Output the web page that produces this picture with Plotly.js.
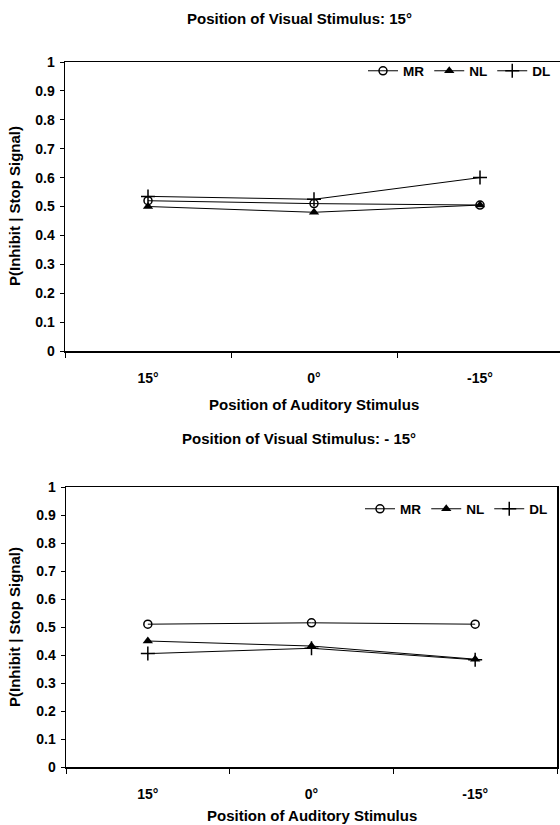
<!DOCTYPE html>
<html>
<head>
<meta charset="utf-8">
<script src="https://cdn.plot.ly/plotly-3.0.1.min.js"></script>
<style>html,body{margin:0;padding:0;background:#fff;}#chart{width:560px;height:825px;}</style>
</head>
<body>
<div id="chart"></div>
<script>
const categories = ['15°', '0°', '-15°'];
const seriesNames = ['MR', 'NL', 'DL'];
const topMR = [0.52, 0.51, 0.505];
const topNL = [0.50, 0.48, 0.505];
const topDL = [0.535, 0.525, 0.60];
const botMR = [0.51, 0.515, 0.51];
const botNL = [0.45, 0.432, 0.385];
const botDL = [0.405, 0.424, 0.383];
const yTickVals = [0, 0.1, 0.2, 0.3, 0.4, 0.5, 0.6, 0.7, 0.8, 0.9, 1];
const yTickText = ['0', '0.1', '0.2', '0.3', '0.4', '0.5', '0.6', '0.7', '0.8', '0.9', '1'];
const titleTop = 'Position of Visual Stimulus: 15°';
const titleBottom = 'Position of Visual Stimulus: - 15°';
const xTitle = 'Position of Auditory Stimulus';
const yTitle = 'P(Inhibit | Stop Signal)';

const F = 'Liberation Sans, Arial, sans-serif';
const markerStyles = {
  MR: {symbol: 'circle-open', size: 8, color: '#000', line: {width: 1.5, color: '#000'}},
  NL: {symbol: 'triangle-up', size: 9, color: '#000', line: {width: 0}},
  DL: {symbol: 'cross-thin-open', size: 10, color: '#000', line: {width: 1.5, color: '#000'}}
};

function mk(name, ys, xa, ya, leg) {
  return {
    type: 'scatter', mode: 'lines+markers', name: name,
    x: categories, y: ys, xaxis: xa, yaxis: ya, legend: leg,
    line: {color: '#000', width: 1},
    marker: markerStyles[name], cliponaxis: false
  };
}

const data = [
  mk('MR', topMR, 'x', 'y', 'legend'),
  mk('NL', topNL, 'x', 'y', 'legend'),
  mk('DL', topDL, 'x', 'y', 'legend'),
  mk('MR', botMR, 'x2', 'y2', 'legend2'),
  mk('NL', botNL, 'x2', 'y2', 'legend2'),
  mk('DL', botDL, 'x2', 'y2', 'legend2')
];

const tickFont = {family: F, size: 14, color: '#000', weight: 'bold'};
function xax(domain, range, mirror) {
  return {
    domain: domain, type: 'category', categoryarray: categories, range: range,
    showgrid: false, zeroline: false, showline: true, linecolor: '#000', linewidth: 1.5,
    mirror: mirror, ticks: 'outside', ticklen: 5, tickcolor: '#000', tickwidth: 1,
    tickson: 'boundaries', tickfont: tickFont, ticklabelstandoff: 14
  };
}
function yax(domain, anchor, mirror) {
  return {
    domain: domain, anchor: anchor, range: [0, 1],
    tickvals: yTickVals, ticktext: yTickText,
    showgrid: false, zeroline: false, showline: true, linecolor: '#000', linewidth: 1.5,
    mirror: mirror, ticks: 'outside', ticklen: 4, tickcolor: '#000', tickwidth: 1,
    tickfont: tickFont, ticklabelstandoff: 2
  };
}

const H = 825, W = 560;
const legFont = {family: F, size: 13.5, color: '#000', weight: 'bold'};
const titleFont = {family: F, size: 15, weight: 'bold', color: '#000'};
const layout = {
  width: W, height: H,
  margin: {l: 0, r: 0, t: 0, b: 0},
  paper_bgcolor: '#fff', plot_bgcolor: '#fff',
  showlegend: true,
  xaxis: Object.assign(xax([65 / W, 1], [-0.5, -0.5 + 495 / 166], true), {anchor: 'y'}),
  yaxis: yax([1 - 351 / H, 1 - 62 / H], 'x', false),
  xaxis2: Object.assign(xax([66 / W, 557 / W], [-0.5, 2.5], true), {anchor: 'y2'}),
  yaxis2: yax([1 - 767 / H, 1 - 487 / H], 'x2', true),
  legend: {orientation: 'h', x: 556 / W, xanchor: 'right', y: 1 - 71 / H, yanchor: 'middle',
           font: legFont, bgcolor: 'rgba(0,0,0,0)', itemwidth: 30, tracegroupgap: 0},
  legend2: {orientation: 'h', x: 553 / W, xanchor: 'right', y: 1 - 509 / H, yanchor: 'middle',
            font: legFont, bgcolor: 'rgba(0,0,0,0)', itemwidth: 30, tracegroupgap: 0},
  annotations: [
    {text: titleTop, xref: 'paper', yref: 'paper', x: 299 / W, y: 1 - 18 / H, xanchor: 'center', yanchor: 'middle', showarrow: false, font: titleFont},
    {text: titleBottom, xref: 'paper', yref: 'paper', x: 299 / W, y: 1 - 438 / H, xanchor: 'center', yanchor: 'middle', showarrow: false, font: titleFont},
    {text: xTitle, xref: 'paper', yref: 'paper', x: 314 / W, y: 1 - 404 / H, xanchor: 'center', yanchor: 'middle', showarrow: false, font: titleFont},
    {text: xTitle, xref: 'paper', yref: 'paper', x: 312 / W, y: 1 - 815 / H, xanchor: 'center', yanchor: 'middle', showarrow: false, font: titleFont},
    {text: yTitle, xref: 'paper', yref: 'paper', x: 14 / W, y: 1 - 206 / H, xanchor: 'center', yanchor: 'middle', textangle: -90, showarrow: false, font: titleFont},
    {text: yTitle, xref: 'paper', yref: 'paper', x: 14 / W, y: 1 - 627 / H, xanchor: 'center', yanchor: 'middle', textangle: -90, showarrow: false, font: titleFont}
  ]
};

Plotly.newPlot('chart', data, layout, {staticPlot: true, displayModeBar: false});
</script>
</body>
</html>
